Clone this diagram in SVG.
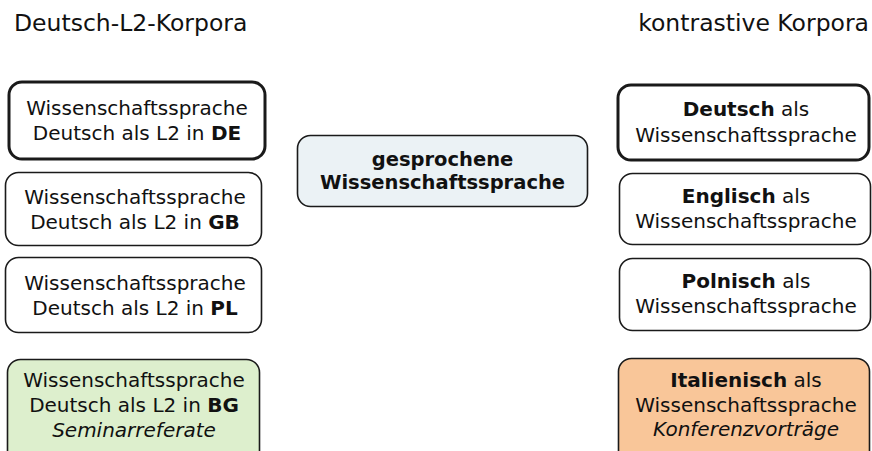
<svg xmlns="http://www.w3.org/2000/svg" width="872" height="451" viewBox="0 0 872 451">
<style>
  .box { fill: #ffffff; stroke: #1a1a1a; stroke-width: 1.6; }
  .thick { stroke-width: 3; }
  .green { fill: #ddefcd; }
  .orange { fill: #f9c699; }
  .blue { fill: #ebf2f5; }
  text { font-family: "DejaVu Sans", Verdana, sans-serif; font-size: 20px; fill: #111111; text-anchor: middle; }
  .head { font-size: 23.5px; text-anchor: start; }
  .headr { font-size: 23.5px; text-anchor: end; }
  .c { font-size: 19.5px; }
  .b { font-weight: bold; }
  .i { font-style: italic; }
</style>
<g id="headers">
  <text class="head" x="14" y="31">Deutsch-L2-Korpora</text>
  <text class="headr" x="869" y="31">kontrastive Korpora</text>
</g>
<g id="connectors"></g>
<g id="l2-de">
  <rect class="box thick" x="9" y="82" width="256" height="77" rx="13"/>
  <text x="137" y="115">Wissenschaftssprache</text>
  <text x="137" y="140">Deutsch als L2 in <tspan class="b">DE</tspan></text>
</g>
<g id="l2-gb">
  <rect class="box" x="5.5" y="172.5" width="256" height="73" rx="13"/>
  <text x="135" y="204">Wissenschaftssprache</text>
  <text x="135" y="229">Deutsch als L2 in <tspan class="b">GB</tspan></text>
</g>
<g id="l2-pl">
  <rect class="box" x="5.5" y="257.5" width="256" height="75" rx="13"/>
  <text x="135" y="290">Wissenschaftssprache</text>
  <text x="135" y="315">Deutsch als L2 in <tspan class="b">PL</tspan></text>
</g>
<g id="l2-bg">
  <rect class="box green" x="7.5" y="359.5" width="252" height="105" rx="13"/>
  <text x="134" y="387">Wissenschaftssprache</text>
  <text x="134" y="412">Deutsch als L2 in <tspan class="b">BG</tspan></text>
  <text class="i" x="134" y="437">Seminarreferate</text>
</g>
<g id="gesprochene">
  <rect class="box blue" x="297.5" y="135.5" width="290" height="71" rx="13"/>
  <text class="b c" x="442.5" y="166">gesprochene</text>
  <text class="b c" x="442.5" y="189">Wissenschaftssprache</text>
</g>
<g id="k-deutsch">
  <rect class="box thick" x="618" y="85" width="251" height="75" rx="13"/>
  <text x="746" y="116"><tspan class="b">Deutsch</tspan> als</text>
  <text x="746" y="142">Wissenschaftssprache</text>
</g>
<g id="k-englisch">
  <rect class="box" x="619.5" y="173.5" width="251" height="71" rx="13"/>
  <text x="746" y="203"><tspan class="b">Englisch</tspan> als</text>
  <text x="746" y="228">Wissenschaftssprache</text>
</g>
<g id="k-polnisch">
  <rect class="box" x="619.5" y="258.5" width="251" height="72" rx="13"/>
  <text x="746" y="288"><tspan class="b">Polnisch</tspan> als</text>
  <text x="746" y="313">Wissenschaftssprache</text>
</g>
<g id="k-italienisch">
  <rect class="box orange" x="618.5" y="358.5" width="251" height="106" rx="13"/>
  <text x="746" y="387"><tspan class="b">Italienisch</tspan> als</text>
  <text x="746" y="412">Wissenschaftssprache</text>
  <text class="i" x="746" y="436">Konferenzvorträge</text>
</g>
</svg>
